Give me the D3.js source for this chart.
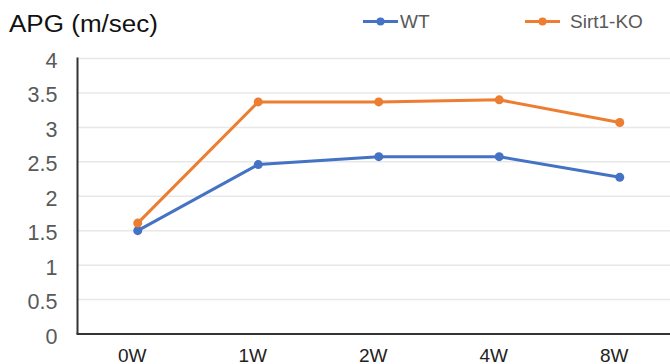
<!DOCTYPE html>
<html>
<head>
<meta charset="utf-8">
<script src="https://cdn.jsdelivr.net/npm/d3@7"></script>
<style>
  html, body { margin: 0; padding: 0; background: #fff; }
  svg { display: block; font-family: "Liberation Sans", Arial, sans-serif; }
</style>
</head>
<body>
<svg id="chart" width="670" height="364"></svg>
<script>
const categories = ["0W", "1W", "2W", "4W", "8W"];
const wtValues = [1.50, 2.46, 2.575, 2.575, 2.275];
const koValues = [1.61, 3.37, 3.37, 3.40, 3.07];
const yTicks = [0, 0.5, 1, 1.5, 2, 2.5, 3, 3.5, 4];
const seriesNames = ["WT", "Sirt1-KO"];
const seriesColors = ["#4472C4", "#ED7D31"];
const titleText = "APG (m/sec)";

const svg = d3.select("#chart");
const plotLeft = 77.5, plotRight = 680, plotTop = 58.5, plotBottom = 334;

const x = d3.scalePoint().domain(categories).range([plotLeft, plotRight]).padding(0.5);
const y = d3.scaleLinear().domain([0, 4]).range([plotBottom, plotTop]);

// gridlines
svg.append("g").selectAll("line").data(yTicks.filter(d => d > 0)).join("line")
  .attr("x1", plotLeft).attr("x2", 670)
  .attr("y1", d => y(d)).attr("y2", d => y(d))
  .attr("stroke", "#e8e8e8").attr("stroke-width", 1.5);

// y axis
const yAxis = svg.append("g").attr("transform", `translate(${plotLeft},0)`)
  .call(d3.axisLeft(y).tickValues(yTicks).tickSize(0).tickPadding(20).tickFormat(d => String(d)));
yAxis.select(".domain").remove();
yAxis.selectAll("text").attr("font-size", 21.5).attr("fill", "#595959")
  .attr("font-family", "Liberation Sans, Arial, sans-serif").attr("dy", "0.42em");

svg.append("line").attr("x1", plotLeft).attr("x2", plotLeft).attr("y1", plotTop - 1).attr("y2", plotBottom)
  .attr("stroke", "#333").attr("stroke-width", 2);

// x axis
const xAxis = svg.append("g").attr("transform", `translate(0,${plotBottom})`)
  .call(d3.axisBottom(x).tickSize(0).tickPadding(0));
xAxis.select(".domain").remove();
xAxis.selectAll("text").attr("font-size", 19).attr("fill", "#222")
  .attr("font-family", "Liberation Sans, Arial, sans-serif")
  .attr("y", 28).attr("dy", 0).attr("dx", -6);
svg.append("line").attr("x1", plotLeft - 1).attr("x2", 670).attr("y1", plotBottom).attr("y2", plotBottom)
  .attr("stroke", "#333").attr("stroke-width", 2);

// lines
const line = d3.line().x((d, i) => x(categories[i])).y(d => y(d));
[wtValues, koValues].forEach((vals, s) => {
  svg.append("path").datum(vals).attr("d", line)
    .attr("fill", "none").attr("stroke", seriesColors[s]).attr("stroke-width", 3)
    .attr("stroke-linejoin", "round");
  svg.append("g").selectAll("circle").data(vals).join("circle")
    .attr("cx", (d, i) => x(categories[i])).attr("cy", d => y(d)).attr("r", 4.5)
    .attr("fill", seriesColors[s]);
});

// title
svg.append("text").attr("x", 9).attr("y", 32).attr("font-size", 23).attr("fill", "#111")
  .attr("textLength", 149).attr("lengthAdjust", "spacingAndGlyphs").text(titleText);

// legend
const legendX = [363, 525];
const legendTextX = [400, 570];
seriesNames.forEach((name, s) => {
  const g = svg.append("g");
  g.append("line").attr("x1", legendX[s]).attr("x2", legendX[s] + 35)
    .attr("y1", 21.5).attr("y2", 21.5).attr("stroke", seriesColors[s]).attr("stroke-width", 3);
  g.append("circle").attr("cx", legendX[s] + 17.5).attr("cy", 21.5).attr("r", 4).attr("fill", seriesColors[s]);
  g.append("text").attr("x", legendTextX[s]).attr("y", 28).attr("font-size", 19).attr("fill", "#595959")
    .text(name);
});
</script>
</body>
</html>
